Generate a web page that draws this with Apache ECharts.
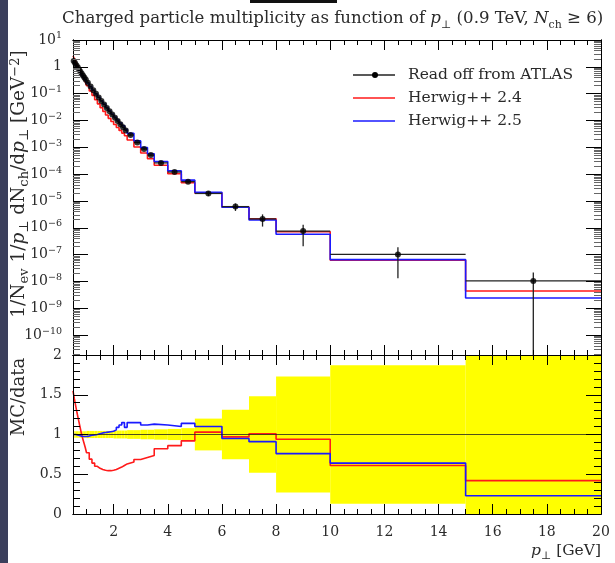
<!DOCTYPE html>
<html><head><meta charset="utf-8">
<script src="https://cdn.jsdelivr.net/npm/echarts@6/dist/echarts.min.js"></script>
<style>html,body{margin:0;padding:0;background:#fff}#c{width:615px;height:563px}</style>
</head><body><div id="c"></div>
<script>
// ---------- data ----------
const binEdges = [0.5,0.55,0.6,0.65,0.7,0.75,0.8,0.85,0.9,0.95,1.0,1.1,1.2,1.3,1.4,1.5,1.6,1.7,1.8,1.9,2.0,2.1,2.2,2.3,2.4,2.5,2.75,3.0,3.25,3.5,4.0,4.5,5.0,6.0,7.0,8.0,10,15,20];
const atlasValues = [1.66,1.38,1.15,0.955,0.794,0.661,0.556,0.468,0.394,0.331,
  0.257,0.184,0.135,0.0989,0.0724,0.0537,0.0398,0.0295,0.0221,0.0166,
  0.0126,0.00955,0.00724,0.00556,0.00427,
  0.00288,0.00151,0.000871,0.000513,0.000263,0.000120,5.25e-5,
  1.91e-5,6.17e-6,2.14e-6,7.59e-7,1.02e-7,1.05e-8];
const atlasRelErr = [0.04,0.04,0.04,0.04,0.04,0.04,0.04,0.04,0.04,0.04,
  0.045,0.045,0.045,0.045,0.045,0.045,0.045,0.045,0.045,0.045,
  0.05,0.05,0.05,0.05,0.05,
  0.055,0.055,0.06,0.06,0.065,0.07,0.08,
  0.2,0.31,0.48,0.73,0.87,1.05];
const herwig24Ratio = [1.55,1.45,1.36,1.27,1.19,1.11,1.03,0.96,0.90,0.84,
  0.77,0.69,0.64,0.60,0.575,0.56,0.55,0.545,0.545,0.55,
  0.56,0.575,0.59,0.61,0.63,
  0.655,0.685,0.71,0.735,0.82,0.86,0.92,
  1.03,0.97,1.01,0.94,0.61,0.42];
const herwig25Ratio = [1.00,1.00,0.99,0.99,0.98,0.98,0.975,0.975,0.975,0.975,
  0.98,0.99,0.995,1.0,1.01,1.02,1.025,1.03,1.035,1.04,
  1.06,1.09,1.12,1.15,1.09,
  1.15,1.15,1.12,1.13,1.12,1.10,1.14,
  1.10,0.95,0.91,0.76,0.64,0.23];
const seriesNames = ['Read off from ATLAS','Herwig++ 2.4','Herwig++ 2.5'];
const xTickValues = [2,4,6,8,10,12,14,16,18,20];
const xTickLabels = ['2','4','6','8','10','12','14','16','18','20'];
const yTickExponents = [1,0,-1,-2,-3,-4,-5,-6,-7,-8,-9,-10];
const ratioTickValues = [0,0.5,1,1.5,2];
const ratioTickLabels = ['0','0.5','1','1.5','2'];

// ---------- helpers ----------
const FONT = 'DejaVu Serif';
const TXT = '#2a2a2a';
const nBins = atlasValues.length;
const XMIN = 0.5, XMAX = 20, YMIN = 1.82e-11, YMAX = 10;
const xMinor = [];
for (let v = 1; v < 20; v += 0.5) if (v % 2 !== 0) xMinor.push(v);
const yMajor = yTickExponents.map(e => Math.pow(10, e));
const yMinor = [];
for (let e = -11; e <= 0; e++) for (let m = 2; m <= 9; m++) { const v = m * Math.pow(10, e); if (v >= YMIN && v <= YMAX) yMinor.push(v); }
const rMinor = [];
for (let i = 1; i < 20; i++) if (i % 5 !== 0) rMinor.push(i / 10);

function stepData(vals) {
  const d = vals.map((v, i) => [binEdges[i], v]);
  d.push([binEdges[nBins], vals[nBins - 1]]);
  return d;
}
const mc24 = atlasValues.map((v, i) => v * herwig24Ratio[i]);
const mc25 = atlasValues.map((v, i) => v * herwig25Ratio[i]);

const tickStyle = {color: '#000', width: 1};
function xAx(grid, pos, values, len, labels) {
  return {type: 'value', gridIndex: grid, position: pos, min: XMIN, max: XMAX, z: 10,
    axisLine: {show: true, onZero: false, lineStyle: {color: '#000', width: 1}},
    axisTick: {show: true, inside: true, length: len, customValues: values, lineStyle: tickStyle},
    axisLabel: labels ? {show: true, customValues: values, margin: 11,
      formatter: v => xTickLabels[xTickValues.indexOf(Math.round(v))] || '',
      fontFamily: FONT, fontSize: 14, color: TXT} : {show: false},
    splitLine: {show: false}};
}
function yLog(pos, values, len, labels, col) {
  return {type: 'log', logBase: 10, gridIndex: 0, position: pos, min: YMIN, max: YMAX, z: 10,
    axisLine: {show: true, onZero: false, lineStyle: {color: '#000', width: 1}},
    axisTick: {show: true, inside: true, length: len, customValues: values, lineStyle: {color: col, width: 1}},
    axisLabel: labels ? {show: true, customValues: values, margin: 11,
      formatter: v => { const e = Math.round(Math.log10(v)); return e === 0 ? '{b|1}' : '{b|10}{s|' + (e < 0 ? '−' + (-e) : e) + '}'; },
      rich: {b: {fontFamily: FONT, fontSize: 14, color: TXT, lineHeight: 18},
             s: {fontFamily: FONT, fontSize: 9.5, color: TXT, lineHeight: 10, verticalAlign: 'top'}}} : {show: false},
    splitLine: {show: false}};
}
function yRat(pos, values, len, labels) {
  return {type: 'value', gridIndex: 1, position: pos, min: 0, max: 2, z: 10,
    axisLine: {show: true, onZero: false, lineStyle: {color: '#000', width: 1}},
    axisTick: {show: true, inside: true, length: len, customValues: values, lineStyle: tickStyle},
    axisLabel: labels ? {show: true, customValues: values, margin: 11,
      formatter: v => ratioTickLabels[ratioTickValues.indexOf(v)] ?? '',
      fontFamily: FONT, fontSize: 14, color: TXT} : {show: false},
    splitLine: {show: false}};
}

function clampRect(r, cs) {
  const x0 = Math.max(r.x, cs.x), x1 = Math.min(r.x + r.width, cs.x + cs.width);
  const y0 = Math.max(r.y, cs.y), y1 = Math.min(r.y + r.height, cs.y + cs.height);
  return {x: x0, y: y0, width: Math.max(0, x1 - x0), height: Math.max(0, y1 - y0)};
}

const bandData = atlasValues.map((v, i) => [binEdges[i], binEdges[i + 1], 1 - atlasRelErr[i], 1 + atlasRelErr[i]]);
const errData = atlasValues.map((v, i) => [(binEdges[i] + binEdges[i + 1]) / 2, v, Math.max(v * (1 - atlasRelErr[i]), 1e-14), v * (1 + atlasRelErr[i]), binEdges[i], binEdges[i + 1]]);
const pointData = atlasValues.map((v, i) => [(binEdges[i] + binEdges[i + 1]) / 2, v]);

const richSub = (fs) => ({
  i: {fontStyle: 'italic', fontFamily: FONT, fontSize: fs, fill: TXT},
  sub: {fontSize: Math.round(fs * 0.68), fontFamily: FONT, fill: TXT, verticalAlign: 'bottom', lineHeight: 11, padding: [0, 0, -3, 0]},
  sup: {fontSize: Math.round(fs * 0.68), fontFamily: FONT, fill: TXT, verticalAlign: 'top', lineHeight: 11}
});

const chart = echarts.init(document.getElementById('c'), null, {renderer: 'canvas'});
const option = {
  animation: false,
  backgroundColor: '#fff',
  grid: [
    {left: 73, right: 14, top: 40, height: 315},
    {left: 73, right: 14, top: 355, height: 159}
  ],
  xAxis: [
    xAx(0, 'bottom', xTickValues, 10, false),
    xAx(0, 'bottom', xMinor, 5, false),
    xAx(0, 'top', xTickValues, 10, false),
    xAx(0, 'top', xMinor, 5, false),
    xAx(1, 'bottom', xTickValues, 10, true),
    xAx(1, 'bottom', xMinor, 5, false),
    xAx(1, 'top', xTickValues, 10, false),
    xAx(1, 'top', xMinor, 5, false)
  ],
  yAxis: [
    yLog('left', yMajor, 15, true, '#000'),
    yLog('left', yMinor, 7, false, '#666'),
    yLog('right', yMajor, 15, false, '#000'),
    yLog('right', yMinor, 7, false, '#666'),
    yRat('left', ratioTickValues, 15, true),
    yRat('left', rMinor, 7, false),
    yRat('right', ratioTickValues, 15, false),
    yRat('right', rMinor, 7, false)
  ],
  series: [
    {type: 'custom', name: 'band', xAxisIndex: 4, yAxisIndex: 4, z: 1, silent: true,
     encode: {x: [0, 1], y: [2, 3]}, data: bandData,
     renderItem: (params, api) => {
       const p0 = api.coord([api.value(0), api.value(3)]);
       const p1 = api.coord([api.value(1), api.value(2)]);
       const r = clampRect({x: p0[0], y: p0[1], width: p1[0] - p0[0], height: p1[1] - p0[1]}, params.coordSys);
       return {type: 'rect', shape: r, style: {fill: '#ffff00', stroke: null}};
     }},
    {type: 'line', name: 'unity', xAxisIndex: 4, yAxisIndex: 4, data: [], z: 2,
     markLine: {silent: true, symbol: 'none', label: {show: false}, animation: false,
       lineStyle: {color: '#222', width: 0.8, type: 'solid'}, data: [{yAxis: 1}]}},
    {type: 'line', name: seriesNames[1], xAxisIndex: 4, yAxisIndex: 4, step: 'end', showSymbol: false, z: 3,
     data: stepData(herwig24Ratio), lineStyle: {color: '#ff1a1a', width: 1.6}},
    {type: 'line', name: seriesNames[2], xAxisIndex: 4, yAxisIndex: 4, step: 'end', showSymbol: false, z: 4,
     data: stepData(herwig25Ratio), lineStyle: {color: '#1a1aff', width: 1.6}},
    {type: 'line', name: seriesNames[1] + ' main', xAxisIndex: 0, yAxisIndex: 0, step: 'end', showSymbol: false, z: 3,
     data: stepData(mc24), lineStyle: {color: '#ff1a1a', width: 1.6}},
    {type: 'line', name: seriesNames[2] + ' main', xAxisIndex: 0, yAxisIndex: 0, step: 'end', showSymbol: false, z: 4,
     data: stepData(mc25), lineStyle: {color: '#1a1aff', width: 1.6}},
    {type: 'custom', name: seriesNames[0] + ' err', xAxisIndex: 0, yAxisIndex: 0, z: 5, silent: true,
     encode: {x: [0, 4, 5], y: [1]}, data: errData,
     renderItem: (params, api) => {
       const cs = params.coordSys;
       const cl = y => Math.min(Math.max(y, cs.y), cs.y + cs.height);
       const top = api.coord([api.value(0), api.value(3)]);
       const bot = api.coord([api.value(0), api.value(2)]);
       const l = api.coord([api.value(4), api.value(1)]);
       const r = api.coord([api.value(5), api.value(1)]);
       const st = {stroke: '#222', lineWidth: 1.3};
       return {type: 'group', children: [
         {type: 'line', shape: {x1: top[0], y1: cl(top[1]), x2: bot[0], y2: cl(bot[1])}, style: st},
         {type: 'line', shape: {x1: l[0], y1: l[1], x2: r[0], y2: r[1]}, style: st}
       ]};
     }},
    {type: 'scatter', name: seriesNames[0], xAxisIndex: 0, yAxisIndex: 0, z: 6, symbol: 'circle', symbolSize: 6,
     itemStyle: {color: '#000'}, data: pointData}
  ],
  graphic: [
    {type: 'rect', left: 0, top: 0, shape: {width: 8, height: 563}, style: {fill: '#3b3f5c'}, z: 100},
    {type: 'rect', left: 250, top: 0, shape: {width: 87, height: 3}, style: {fill: '#111'}, z: 100},
    {type: 'text', x: 62, y: 19, z: 100, style: {
      text: 'Charged particle multiplicity as function of {i|p}{sub|⊥} (0.9 TeV, {i|N}{sub|ch} ≥ 6)',
      fontFamily: FONT, fontSize: 16.6, fill: TXT, verticalAlign: 'middle', align: 'left', rich: richSub(16.6)}},
    {type: 'text', x: 19, y: 184, rotation: Math.PI / 2, z: 100, style: {
      text: '1/N{sub|ev} 1/{i|p}{sub|⊥} dN{sub|ch}/d{i|p}{sub|⊥} [GeV{sup|−2}]',
      fontFamily: FONT, fontSize: 18.5, fill: TXT, align: 'center', verticalAlign: 'middle', rich: richSub(18.5)}},
    {type: 'text', x: 19, y: 397, rotation: Math.PI / 2, z: 100, style: {
      text: 'MC/data', fontFamily: FONT, fontSize: 18, fill: TXT, align: 'center', verticalAlign: 'middle'}},
    {type: 'text', x: 601, y: 551, z: 100, style: {
      text: '{i|p}{sub|⊥} [GeV]', fontFamily: FONT, fontSize: 15.5, fill: TXT, align: 'right', verticalAlign: 'middle', rich: richSub(15.5)}},
    // legend
    {type: 'line', shape: {x1: 353, y1: 75, x2: 395, y2: 75}, style: {stroke: '#222', lineWidth: 1.6}, z: 100},
    {type: 'circle', shape: {cx: 375, cy: 75, r: 3}, style: {fill: '#000'}, z: 101},
    {type: 'text', x: 408, y: 75, z: 100, style: {text: seriesNames[0], fontFamily: FONT, fontSize: 15.5, fill: TXT, verticalAlign: 'middle'}},
    {type: 'line', shape: {x1: 353, y1: 98, x2: 395, y2: 98}, style: {stroke: '#ff1a1a', lineWidth: 1.6}, z: 100},
    {type: 'text', x: 408, y: 98, z: 100, style: {text: seriesNames[1], fontFamily: FONT, fontSize: 15.5, fill: TXT, verticalAlign: 'middle'}},
    {type: 'line', shape: {x1: 353, y1: 121, x2: 395, y2: 121}, style: {stroke: '#1a1aff', lineWidth: 1.6}, z: 100},
    {type: 'text', x: 408, y: 121, z: 100, style: {text: seriesNames[2], fontFamily: FONT, fontSize: 15.5, fill: TXT, verticalAlign: 'middle'}}
  ]
};
chart.setOption(option);
</script>
</body></html>
